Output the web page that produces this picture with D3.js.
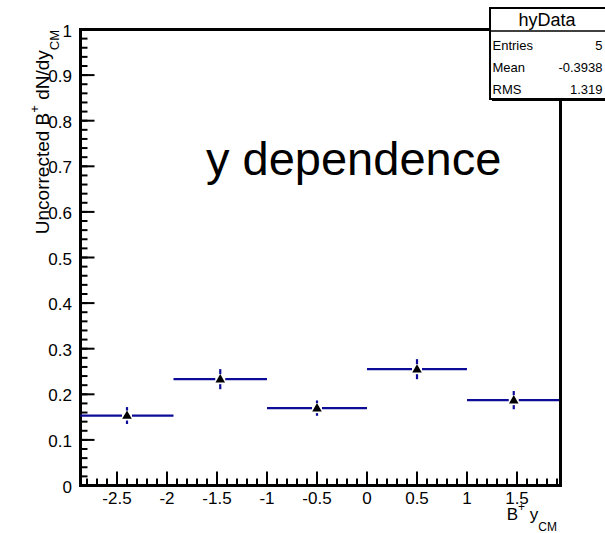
<!DOCTYPE html>
<html>
<head>
<meta charset="utf-8">
<script src="https://cdn.jsdelivr.net/npm/d3@7"></script>
<style>
  html, body { margin: 0; padding: 0; background: #fff; }
  svg { display: block; font-family: "Liberation Sans", Arial, Helvetica, sans-serif; }
</style>
</head>
<body>
<svg id="chart" width="605" height="533"></svg>
<script>
// Uncorrected B+ yield per rapidity bin (centre-of-mass frame)
const binEdges = [-2.865, -1.935, -1.0, 0.0, 1.0, 1.935];
const yieldValues = [0.1534, 0.2332, 0.1697, 0.2551, 0.1872];
const yieldErrors = [0.0186, 0.0220, 0.0168, 0.0220, 0.0200];
const xTickLabels = [-2.5, -2, -1.5, -1, -0.5, 0, 0.5, 1, 1.5];
const yTickLabels = [0, 0.1, 0.2, 0.3, 0.4, 0.5, 0.6, 0.7, 0.8, 0.9, 1];
const statsTitle = "hyData";
const statsRows = [["Entries", "5"], ["Mean", "-0.3938"], ["RMS", "1.319"]];

const svg = d3.select("#chart");
const frame = { left: 80.5, right: 560.5, top: 29.5, bottom: 485.5 };

const x = d3.scaleLinear().domain([binEdges[0], binEdges[binEdges.length - 1]])
  .range([frame.left, frame.right]);
const y = d3.scaleLinear().domain([0, 1]).range([frame.bottom, frame.top]);

const lineColor = "#0c0c98";

// minor ticks
const xMinor = d3.range(-28, 20).map(d => d / 10).filter(d => d >= binEdges[0] && d <= binEdges[5]);
const yMinor = d3.range(0, 51).map(d => d / 50);

const g = svg.append("g");

g.selectAll("line.xminor").data(xMinor).join("line")
  .attr("x1", d => x(d)).attr("x2", d => x(d))
  .attr("y1", frame.bottom).attr("y2", frame.bottom - 7)
  .attr("stroke", "#000").attr("stroke-width", 2);
g.selectAll("line.xmajor").data(xTickLabels).join("line")
  .attr("x1", d => x(d)).attr("x2", d => x(d))
  .attr("y1", frame.bottom).attr("y2", frame.bottom - 14)
  .attr("stroke", "#000").attr("stroke-width", 2);
g.selectAll("line.yminor").data(yMinor).join("line")
  .attr("x1", frame.left).attr("x2", frame.left + 7)
  .attr("y1", d => y(d)).attr("y2", d => y(d))
  .attr("stroke", "#000").attr("stroke-width", 2);
g.selectAll("line.ymajor").data(yTickLabels).join("line")
  .attr("x1", frame.left).attr("x2", frame.left + 14)
  .attr("y1", d => y(d)).attr("y2", d => y(d))
  .attr("stroke", "#000").attr("stroke-width", 2);

// frame
svg.append("rect")
  .attr("x", frame.left).attr("y", frame.top)
  .attr("width", frame.right - frame.left).attr("height", frame.bottom - frame.top)
  .attr("fill", "none").attr("stroke", "#000").attr("stroke-width", 3);

// tick labels
svg.selectAll("text.xl").data(xTickLabels).join("text")
  .attr("x", d => x(d)).attr("y", 503.5)
  .attr("text-anchor", "middle").attr("font-size", 17)
  .text(d => d);
svg.selectAll("text.yl").data(yTickLabels).join("text")
  .attr("x", 72).attr("y", d => y(d) + 7)
  .attr("text-anchor", "end").attr("font-size", 17)
  .text(d => d);

// data: bin-width bars, error bars, markers
const bins = yieldValues.map((v, i) => ({
  lo: binEdges[i], hi: binEdges[i + 1], c: (binEdges[i] + binEdges[i + 1]) / 2, v, e: yieldErrors[i]
}));
const gap = 5;
const dg = svg.append("g").attr("stroke", lineColor).attr("stroke-width", 2.2);
bins.forEach(b => {
  const cx = x(b.c), cy = y(b.v);
  dg.append("line").attr("x1", x(b.lo)).attr("x2", cx - gap).attr("y1", cy).attr("y2", cy);
  dg.append("line").attr("x1", cx + gap).attr("x2", x(b.hi)).attr("y1", cy).attr("y2", cy);
  dg.append("line").attr("x1", cx).attr("x2", cx).attr("y1", y(b.v + b.e)).attr("y2", cy - gap);
  dg.append("line").attr("x1", cx).attr("x2", cx).attr("y1", cy + gap).attr("y2", y(b.v - b.e));
});
svg.selectAll("path.marker").data(bins).join("path")
  .attr("transform", d => `translate(${x(d.c)},${y(d.v) + 0.5})`)
  .attr("d", d3.symbol(d3.symbolTriangle, 40))
  .attr("fill", "#000");

// redraw frame right edge above data
svg.append("line").attr("x1", frame.right).attr("x2", frame.right)
  .attr("y1", frame.top).attr("y2", frame.bottom)
  .attr("stroke", "#000").attr("stroke-width", 3);

// title text inside the frame
svg.append("text").attr("x", 206).attr("y", 175)
  .attr("font-size", 47).text("y dependence");

// x axis title
const xt = svg.append("text").attr("x", 557).attr("y", 520)
  .attr("text-anchor", "end").attr("font-size", 17);
xt.append("tspan").text("B");
xt.append("tspan").attr("font-size", 12).attr("dy", -9).text("+");
xt.append("tspan").attr("dy", 9).text(" y");
xt.append("tspan").attr("font-size", 12).attr("dy", 11).text("CM");

// y axis title
const yt = svg.append("text").attr("transform", "translate(49,30) rotate(-90)")
  .attr("text-anchor", "end").attr("font-size", 19);
yt.append("tspan").text("Uncorrected B");
yt.append("tspan").attr("font-size", 13).attr("dy", -10).text("+");
yt.append("tspan").attr("dy", 10).text(" dN/dy");
yt.append("tspan").attr("font-size", 13).attr("dy", 10).text("CM");

// statistics box
const box = { x: 490, y: 8, w: 120, h: 91 };
svg.append("rect").attr("x", box.x + 2).attr("y", box.y + 2)
  .attr("width", box.w).attr("height", box.h).attr("fill", "#000");
svg.append("rect").attr("x", box.x).attr("y", box.y)
  .attr("width", box.w).attr("height", box.h)
  .attr("fill", "#fff").attr("stroke", "#000").attr("stroke-width", 2);
svg.append("line").attr("x1", box.x).attr("x2", box.x + box.w)
  .attr("y1", 31).attr("y2", 31).attr("stroke", "#000").attr("stroke-width", 1.5);
svg.append("text").attr("x", 547).attr("y", 26)
  .attr("text-anchor", "middle").attr("font-size", 18).text(statsTitle);
statsRows.forEach((r, i) => {
  const by = 50 + i * 22;
  svg.append("text").attr("x", 492.5).attr("y", by).attr("font-size", 13).text(r[0]);
  svg.append("text").attr("x", 602.5).attr("y", by).attr("text-anchor", "end")
    .attr("font-size", 13).text(r[1]);
});
</script>
</body>
</html>
